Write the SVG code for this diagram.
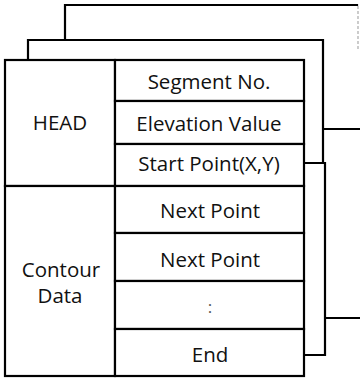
<svg xmlns="http://www.w3.org/2000/svg" width="360" height="378" viewBox="0 0 360 378">
<style>
.ln{fill:none;stroke:#000;stroke-width:2.2;stroke-linecap:square}
.faint{fill:none;stroke:#aaa;stroke-width:1.2;stroke-dasharray:3 2}
.cell{fill:#fff;stroke:#000;stroke-width:2.2}
.t{font-family:"Open Sans","Noto Sans","Liberation Sans",sans-serif;font-size:20.5px;fill:#111;text-anchor:middle}
.dot{font-size:17px;fill:#555}
</style>
<rect width="360" height="378" fill="#fff"/>
<g id="sheet-back">
<path class="ln" d="M65,40 V5 H357"/>
<path class="faint" d="M358,6 V50"/>
</g>
<g id="sheet-middle">
<path class="ln" d="M28,60 V40 H323 V163"/>
</g>
<g id="sheet-lower">
<path class="ln" d="M304,163 H325 V355 H304"/>
</g>
<g id="connectors">
<path class="ln" d="M324,129 H360"/>
<path class="ln" d="M326,318 H360"/>
</g>
<g id="table">
<g id="head">
<rect class="cell" x="5" y="60" width="110" height="126"/>
<text class="t" x="60" y="130">HEAD</text>
</g>
<g id="contour-data">
<rect class="cell" x="5" y="186" width="110" height="190"/>
<text class="t" x="61" y="277">Contour</text>
<text class="t" x="60" y="303">Data</text>
</g>
<g id="segment-no">
<rect class="cell" x="115" y="60" width="189" height="41"/>
<text class="t" x="209" y="89">Segment No.</text>
</g>
<g id="elevation-value">
<rect class="cell" x="115" y="101" width="189" height="43"/>
<text class="t" x="209" y="131">Elevation Value</text>
</g>
<g id="start-point">
<rect class="cell" x="115" y="144" width="189" height="42"/>
<text class="t" x="209" y="171">Start Point(X,Y)</text>
</g>
<g id="next-point-1">
<rect class="cell" x="115" y="186" width="189" height="47"/>
<text class="t" x="210" y="218">Next Point</text>
</g>
<g id="next-point-2">
<rect class="cell" x="115" y="233" width="189" height="48"/>
<text class="t" x="210" y="267">Next Point</text>
</g>
<g id="ellipsis">
<rect class="cell" x="115" y="281" width="189" height="48"/>
<text class="t dot" x="210" y="313">:</text>
</g>
<g id="end">
<rect class="cell" x="115" y="329" width="189" height="47"/>
<text class="t" x="210" y="362">End</text>
</g>
</g>
</svg>
